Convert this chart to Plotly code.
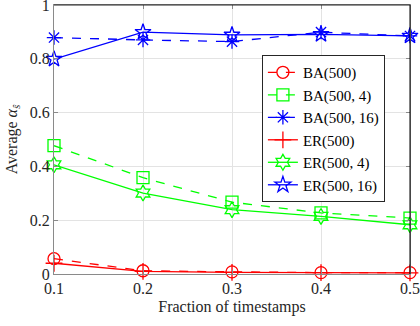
import plotly.graph_objects as go

fractions = [0.1, 0.2, 0.3, 0.4, 0.5]
ba_500 = [0.057, 0.012, 0.008, 0.005, 0.005]
ba_500_4 = [0.477, 0.358, 0.267, 0.227, 0.208]
ba_500_16 = [0.879, 0.870, 0.864, 0.899, 0.885]
er_500 = [0.040, 0.010, 0.006, 0.005, 0.004]
er_500_4 = [0.406, 0.301, 0.239, 0.214, 0.183]
er_500_16 = [0.799, 0.899, 0.889, 0.891, 0.885]

x_ticks = [0.1, 0.2, 0.3, 0.4, 0.5]
x_tick_labels = ["0.1", "0.2", "0.3", "0.4", "0.5"]
y_ticks = [0, 0.2, 0.4, 0.6, 0.8, 1]
y_tick_labels = ["0", "0.2", "0.4", "0.6", "0.8", "1"]

RED = "#ff0000"
GREEN = "#00ff00"
BLUE = "#0000ff"

series = [
    ("BA(500)", ba_500, RED, "dash", "circle-open"),
    ("BA(500, 4)", ba_500_4, GREEN, "dash", "square-open"),
    ("BA(500, 16)", ba_500_16, BLUE, "dash", "asterisk-open"),
    ("ER(500)", er_500, RED, "solid", "cross-thin-open"),
    ("ER(500, 4)", er_500_4, GREEN, "solid", "hexagram-open"),
    ("ER(500, 16)", er_500_16, BLUE, "solid", "star-open"),
]

fig = go.Figure()
for name, vals, color, dash, sym in series:
    fig.add_trace(go.Scatter(
        x=fractions, y=vals, name=name, mode="lines+markers",
        line=dict(color=color, width=1.3, dash=dash),
        marker=dict(symbol=sym, size=12, color=color,
                    line=dict(color=color, width=1.3)),
        cliponaxis=False,
    ))

FONT = "Liberation Serif"
AXC = "#8a8a8a"
fig.update_layout(
    width=420, height=326,
    margin=dict(l=54, r=10, t=5, b=52, autoexpand=False),
    paper_bgcolor="white", plot_bgcolor="white",
    font=dict(family=FONT, size=16, color="#262626"),
    showlegend=True,
    legend=dict(
        x=0.584, y=0.814, xanchor="left", yanchor="top",
        bgcolor="white", bordercolor="#262626", borderwidth=1,
        font=dict(family=FONT, size=15, color="#000000"),
        tracegroupgap=0, itemwidth=30,
    ),
    xaxis=dict(
        range=[0.1, 0.5], tickvals=x_ticks, ticktext=x_tick_labels,
        showgrid=True, gridcolor="#e3e3e3", gridwidth=1,
        zeroline=False, showline=True, linecolor=AXC, linewidth=1,
        mirror="ticks", ticks="inside", ticklen=4, tickcolor=AXC,
        automargin=False, ticklabeloverflow="allow",
        title=dict(text="Fraction of timestamps", font=dict(size=16), standoff=4),
        tickfont=dict(size=16),
    ),
    yaxis=dict(
        range=[0, 1], tickvals=y_ticks, ticktext=y_tick_labels,
        showgrid=True, gridcolor="#e3e3e3", gridwidth=1,
        zeroline=False, showline=True, linecolor=AXC, linewidth=1,
        mirror="ticks", ticks="inside", ticklen=4, tickcolor=AXC,
        automargin=False, ticklabeloverflow="allow",
        title=dict(text="Average <i>α<sub>ŝ</sub></i>", font=dict(size=16), standoff=8),
        tickfont=dict(size=16),
    ),
    shapes=[
        dict(type="line", xref="paper", yref="paper", x0=0, x1=1, y0=1, y1=1,
             line=dict(color="#262626", width=1), layer="above"),
        dict(type="line", xref="paper", yref="paper", x0=1, x1=1, y0=0, y1=1,
             line=dict(color="#000000", width=1), layer="above"),
    ],
)

fig.write_html(
    "out.html",
    config={"displayModeBar": False},
    post_script="document.body.style.margin='0';document.body.style.overflow='hidden';",
)
